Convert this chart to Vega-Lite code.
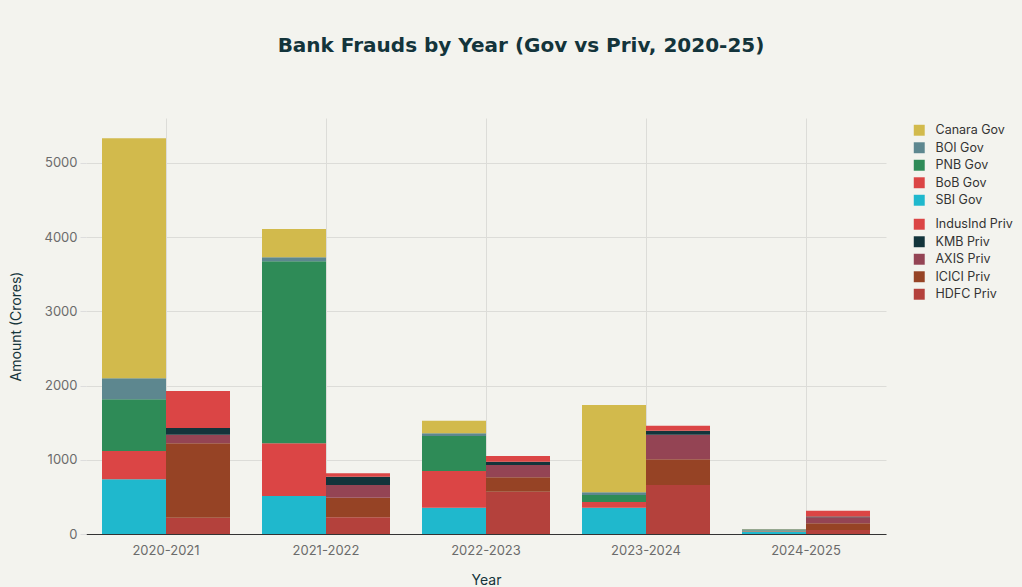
{
  "$schema": "https://vega.github.io/schema/vega-lite/v6.json",
  "width": 800,
  "height": 416,
  "autosize": "none",
  "padding": {"left": 86, "top": 118, "right": 136, "bottom": 53},
  "background": "#F3F3EE",
  "title": {
    "text": "Bank Frauds by Year (Gov vs Priv, 2020-25)",
    "anchor": "middle",
    "dx": 35,
    "offset": 62,
    "font": "DejaVu Sans",
    "fontSize": 20,
    "fontWeight": "bold",
    "color": "#13343B"
  },
  "data": {
    "values": [
      {"year": "2020-2021", "group": "Gov", "bank": "SBI Gov", "amount": 737},
      {"year": "2020-2021", "group": "Gov", "bank": "BoB Gov", "amount": 381},
      {"year": "2020-2021", "group": "Gov", "bank": "PNB Gov", "amount": 697},
      {"year": "2020-2021", "group": "Gov", "bank": "BOI Gov", "amount": 283},
      {"year": "2020-2021", "group": "Gov", "bank": "Canara Gov", "amount": 3235},
      {"year": "2020-2021", "group": "Priv", "bank": "HDFC Priv", "amount": 220},
      {"year": "2020-2021", "group": "Priv", "bank": "ICICI Priv", "amount": 1002},
      {"year": "2020-2021", "group": "Priv", "bank": "AXIS Priv", "amount": 117},
      {"year": "2020-2021", "group": "Priv", "bank": "KMB Priv", "amount": 90},
      {"year": "2020-2021", "group": "Priv", "bank": "IndusInd Priv", "amount": 498},
      {"year": "2021-2022", "group": "Gov", "bank": "SBI Gov", "amount": 512},
      {"year": "2021-2022", "group": "Gov", "bank": "BoB Gov", "amount": 710},
      {"year": "2021-2022", "group": "Gov", "bank": "PNB Gov", "amount": 2453},
      {"year": "2021-2022", "group": "Gov", "bank": "BOI Gov", "amount": 54},
      {"year": "2021-2022", "group": "Gov", "bank": "Canara Gov", "amount": 381},
      {"year": "2021-2022", "group": "Priv", "bank": "HDFC Priv", "amount": 225},
      {"year": "2021-2022", "group": "Priv", "bank": "ICICI Priv", "amount": 265},
      {"year": "2021-2022", "group": "Priv", "bank": "AXIS Priv", "amount": 172},
      {"year": "2021-2022", "group": "Priv", "bank": "KMB Priv", "amount": 108},
      {"year": "2021-2022", "group": "Priv", "bank": "IndusInd Priv", "amount": 50},
      {"year": "2022-2023", "group": "Gov", "bank": "SBI Gov", "amount": 355},
      {"year": "2022-2023", "group": "Gov", "bank": "BoB Gov", "amount": 494},
      {"year": "2022-2023", "group": "Gov", "bank": "PNB Gov", "amount": 472},
      {"year": "2022-2023", "group": "Gov", "bank": "BOI Gov", "amount": 36},
      {"year": "2022-2023", "group": "Gov", "bank": "Canara Gov", "amount": 170},
      {"year": "2022-2023", "group": "Priv", "bank": "HDFC Priv", "amount": 570},
      {"year": "2022-2023", "group": "Priv", "bank": "ICICI Priv", "amount": 194},
      {"year": "2022-2023", "group": "Priv", "bank": "AXIS Priv", "amount": 166},
      {"year": "2022-2023", "group": "Priv", "bank": "KMB Priv", "amount": 45},
      {"year": "2022-2023", "group": "Priv", "bank": "IndusInd Priv", "amount": 76},
      {"year": "2023-2024", "group": "Gov", "bank": "SBI Gov", "amount": 355},
      {"year": "2023-2024", "group": "Gov", "bank": "BoB Gov", "amount": 76},
      {"year": "2023-2024", "group": "Gov", "bank": "PNB Gov", "amount": 95},
      {"year": "2023-2024", "group": "Gov", "bank": "BOI Gov", "amount": 36},
      {"year": "2023-2024", "group": "Gov", "bank": "Canara Gov", "amount": 1177},
      {"year": "2023-2024", "group": "Priv", "bank": "HDFC Priv", "amount": 660},
      {"year": "2023-2024", "group": "Priv", "bank": "ICICI Priv", "amount": 346},
      {"year": "2023-2024", "group": "Priv", "bank": "AXIS Priv", "amount": 332},
      {"year": "2023-2024", "group": "Priv", "bank": "KMB Priv", "amount": 54},
      {"year": "2023-2024", "group": "Priv", "bank": "IndusInd Priv", "amount": 68},
      {"year": "2024-2025", "group": "Gov", "bank": "SBI Gov", "amount": 31},
      {"year": "2024-2025", "group": "Gov", "bank": "BoB Gov", "amount": 5},
      {"year": "2024-2025", "group": "Gov", "bank": "PNB Gov", "amount": 12},
      {"year": "2024-2025", "group": "Gov", "bank": "BOI Gov", "amount": 15},
      {"year": "2024-2025", "group": "Gov", "bank": "Canara Gov", "amount": 4},
      {"year": "2024-2025", "group": "Priv", "bank": "HDFC Priv", "amount": 55},
      {"year": "2024-2025", "group": "Priv", "bank": "ICICI Priv", "amount": 90},
      {"year": "2024-2025", "group": "Priv", "bank": "AXIS Priv", "amount": 80},
      {"year": "2024-2025", "group": "Priv", "bank": "KMB Priv", "amount": 10},
      {"year": "2024-2025", "group": "Priv", "bank": "IndusInd Priv", "amount": 80}
    ]
  },
  "transform": [
    {"calculate": "indexof(['SBI Gov','BoB Gov','PNB Gov','BOI Gov','Canara Gov','HDFC Priv','ICICI Priv','AXIS Priv','KMB Priv','IndusInd Priv'], datum.bank)", "as": "stackOrder"}
  ],
  "encoding": {
    "x": {
      "field": "year",
      "type": "nominal",
      "title": "Year",
      "scale": {"paddingInner": 0.2, "paddingOuter": 0.1},
      "axis": {
        "labelAngle": 0,
        "grid": true,
        "ticks": false,
        "domain": true,
        "domainColor": "#333333",
        "labelPadding": 10,
        "titlePadding": 16
      }
    },
    "xOffset": {
      "field": "group",
      "type": "nominal",
      "scale": {"domain": ["Gov", "Priv"], "paddingInner": 0, "paddingOuter": 0}
    },
    "y": {
      "field": "amount",
      "type": "quantitative",
      "stack": "zero",
      "title": "Amount (Crores)",
      "scale": {"domain": [0, 5606], "nice": false},
      "axis": {
        "values": [0, 1000, 2000, 3000, 4000, 5000],
        "format": "d",
        "domain": false,
        "ticks": true,
        "tickSize": 6,
        "tickColor": "#dddddd",
        "labelPadding": 3,
        "titlePadding": 20
      }
    },
    "order": {"field": "stackOrder", "type": "quantitative", "sort": "ascending"}
  },
  "layer": [
    {
      "transform": [{"filter": "datum.group === 'Gov'"}],
      "mark": {"type": "bar"},
      "encoding": {
        "color": {
          "field": "bank",
          "type": "nominal",
          "scale": {
            "domain": ["Canara Gov", "BOI Gov", "PNB Gov", "BoB Gov", "SBI Gov"],
            "range": ["#D2BA4C", "#5D878F", "#2E8B57", "#DB4545", "#1FB8CD"]
          },
          "legend": {"title": null, "orient": "none", "legendX": 827, "legendY": 6}
        }
      }
    },
    {
      "transform": [{"filter": "datum.group === 'Priv'"}],
      "mark": {"type": "bar"},
      "encoding": {
        "color": {
          "field": "bank",
          "type": "nominal",
          "scale": {
            "domain": ["IndusInd Priv", "KMB Priv", "AXIS Priv", "ICICI Priv", "HDFC Priv"],
            "range": ["#DB4545", "#13343B", "#944454", "#964325", "#B4413C"]
          },
          "legend": {"title": null, "orient": "none", "legendX": 827, "legendY": 100}
        }
      }
    }
  ],
  "resolve": {"scale": {"color": "independent"}},
  "config": {
    "view": {"stroke": null},
    "font": "Inter",
    "axis": {
      "gridColor": "#dcdcd8",
      "gridWidth": 1,
      "labelColor": "#6b6b6b",
      "labelFont": "Inter",
      "labelFontSize": 13,
      "titleColor": "#13343B",
      "titleFont": "Inter",
      "titleFontSize": 14,
      "titleFontWeight": "normal"
    },
    "legend": {
      "symbolType": "square",
      "symbolSize": 120,
      "symbolStrokeWidth": 0,
      "labelFont": "Inter",
      "labelFontSize": 12.5,
      "labelColor": "#333333",
      "rowPadding": 4.5,
      "labelOffset": 10
    }
  }
}
